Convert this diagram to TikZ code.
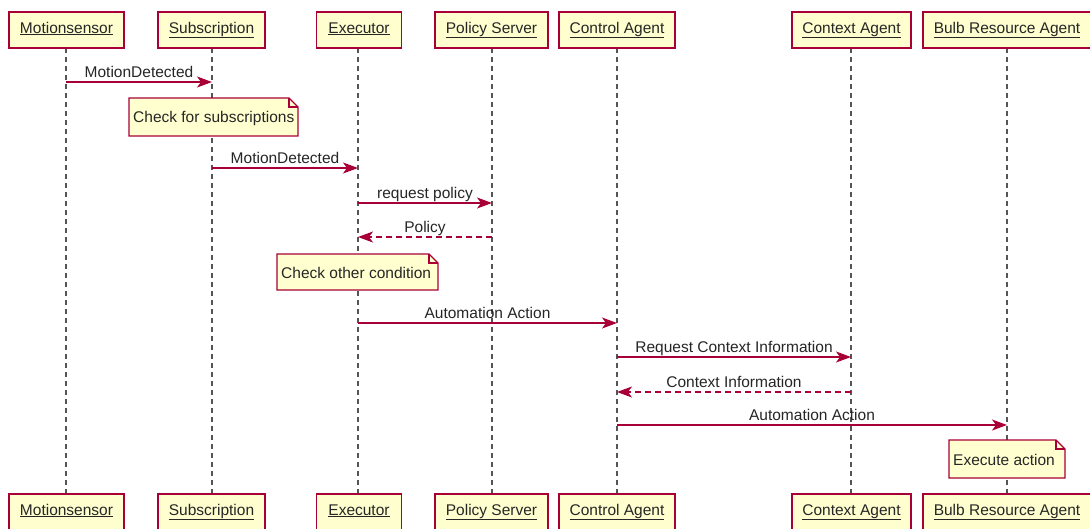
\documentclass[tikz,border=0pt]{standalone}
\usepackage{fontspec}
\setmainfont{Liberation Sans}
\usetikzlibrary{arrows.meta}
\definecolor{umlred}{HTML}{A80036}
\definecolor{umlfill}{HTML}{FEFECE}
\definecolor{notefill}{HTML}{FFFFD0}
\definecolor{lifegray}{HTML}{555555}
\definecolor{txt}{HTML}{262626}
\tikzset{
  every node/.style={font=\fontsize{15.5}{18}\selectfont, text=txt},
  actor/.style={draw=umlred, fill=umlfill, line width=1.4pt, minimum height=36pt,
    inner sep=0pt, text height=11pt, text depth=5pt},
  life/.style={draw=lifegray, line width=1.2pt, dash pattern=on 5pt off 4pt},
  msg/.style={draw=umlred, line width=1.3pt, -{Stealth[length=15pt,width=11pt,inset=4pt]}},
  reply/.style={msg, dash pattern=on 6pt off 4pt},
  lbl/.style={inner sep=0pt, anchor=base},
  notebox/.style={draw=umlred, fill=notefill, line width=1.2pt}
}
% dog-eared note: #1 left, #2 top, #3 right, #4 bottom, #5 text, #6 name
\newcommand{\umlnote}[6]{%
  \draw[notebox] (#1,#2) -- (#3-9,#2) -- (#3,#2+9) -- (#3,#4) -- (#1,#4) -- cycle;
  \draw[notebox, fill=none] (#3-9,#2) -- (#3-9,#2+9) -- (#3,#2+9);
  \node[anchor=west, inner sep=0pt] (#6) at (#1+4,{(#2+#4)/2+1}) {#5};
}
\begin{document}
\begin{tikzpicture}[x=1pt, y=-1pt]
\useasboundingbox (0,0) rectangle (1090,528);
\fill[white] (0,0) rectangle (1090,528);

% lifelines
\foreach \nm/\xx in {ms/66, sub/212, ex/358, ps/492, ca/617, cx/851, bra/1007} {
  \coordinate (\nm t) at (\xx,48);
  \coordinate (\nm b) at (\xx,494);
  \draw[life] (\nm t) -- (\nm b);
}

% participant heads (top and bottom)
\foreach \nm/\xx/\ww/\lab in {ms/66.5/115/Motionsensor, sub/211.5/107/Subscription, ex/359/85/Executor, ps/491.5/113/Policy Server, ca/617/116/Control Agent, cx/851.5/119/Context Agent, bra/1007/168/Bulb Resource Agent} {
  \node[actor, minimum width=\ww pt] (\nm top) at (\xx,30) {\underline{\lab}};
  \node[actor, minimum width=\ww pt] (\nm bot) at (\xx,512) {\underline{\lab}};
}

% messages
\coordinate (m1a) at (66,82);   \coordinate (m1b) at (212,82);
\draw[msg] (m1a) -- (m1b) node[lbl, pos=0.5, yshift=5pt] (l1) {MotionDetected};

\umlnote{129}{98}{298}{136}{Check for subscriptions}{n1}

\coordinate (m2a) at (212,168); \coordinate (m2b) at (358,168);
\draw[msg] (m2a) -- (m2b) node[lbl, pos=0.5, yshift=5pt] (l2) {MotionDetected};

\coordinate (m3a) at (358,203); \coordinate (m3b) at (492,203);
\draw[msg] (m3a) -- (m3b) node[lbl, pos=0.5, yshift=5pt] (l3) {request policy};

\coordinate (m4a) at (492,237); \coordinate (m4b) at (358,237);
\draw[reply] (m4a) -- (m4b) node[lbl, pos=0.5, yshift=5pt] (l4) {Policy};

\umlnote{277}{254}{438}{290}{Check other condition}{n2}

\coordinate (m5a) at (358,323); \coordinate (m5b) at (617,323);
\draw[msg] (m5a) -- (m5b) node[lbl, pos=0.5, yshift=5pt] (l5) {Automation Action};

\coordinate (m6a) at (617,357); \coordinate (m6b) at (851,357);
\draw[msg] (m6a) -- (m6b) node[lbl, pos=0.5, yshift=5pt] (l6) {Request Context Information};

\coordinate (m7a) at (851,392); \coordinate (m7b) at (617,392);
\draw[reply] (m7a) -- (m7b) node[lbl, pos=0.5, yshift=5pt] (l7) {Context Information};

\coordinate (m8a) at (617,425); \coordinate (m8b) at (1007,425);
\draw[msg] (m8a) -- (m8b) node[lbl, pos=0.5, yshift=5pt] (l8) {Automation Action};

\umlnote{949}{440}{1065}{478}{Execute action}{n3}
\end{tikzpicture}
\end{document}
